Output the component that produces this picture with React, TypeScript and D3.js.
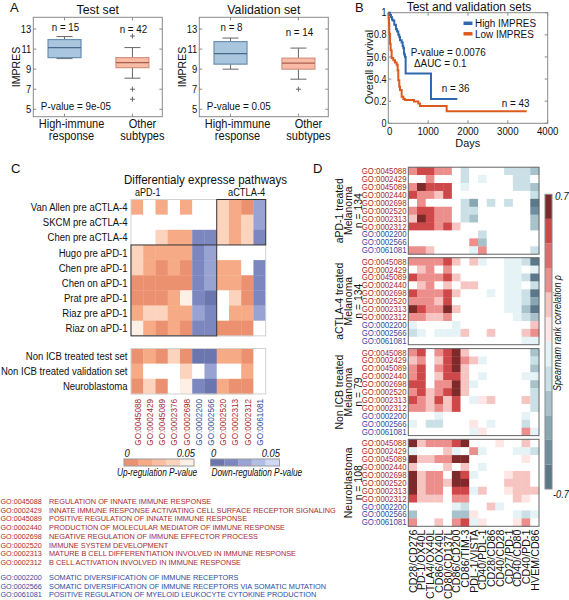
import React from 'react';
import * as d3 from 'd3';

const FONT = "'Liberation Sans', Arial, Helvetica, sans-serif";
const RED = '#a62a2d';
const BLUE = '#2f4b9c';

// ---------------- Panel A data ----------------
const aCategories = [['High-immune', 'response'], ['Other', 'subtypes']];
// [lowWhisker, q1, median, q3, highWhisker]
const aTestBoxes = [[10.05, 10.15, 11.15, 11.95, 12.25], [8.1, 9.15, 9.65, 10.15, 11.15]];
const aTestOutliers = [[], [12.3, 7.0, 6.0]];
const aTestN = ['n = 15', 'n = 42'];
const aValBoxes = [[9.0, 9.5, 10.55, 11.75, 12.1], [8.0, 9.0, 9.6, 10.1, 11.1]];
const aValOutliers = [[], [7.0]];
const aValN = ['n = 8', 'n = 14'];
const aTicks = [5, 7, 9, 11, 13];

// ---------------- Panel B data ----------------
const highDays = [0, 40, 67, 90, 109, 150, 192, 220, 251, 275, 293, 335, 360, 377, 393, 405, 418, 435, 1071, 1732];
const highSurv = [1, 0.98, 0.96, 0.94, 0.93, 0.89, 0.85, 0.83, 0.8, 0.78, 0.75, 0.73, 0.7, 0.68, 0.63, 0.62, 0.6, 0.45, 0.22, 0.22];
const lowDays = [0, 8, 17, 25, 42, 59, 84, 126, 167, 209, 234, 251, 276, 293, 335, 377, 418, 644, 753, 795, 1464, 3473];
const lowSurv = [1, 0.95, 0.9, 0.81, 0.72, 0.66, 0.59, 0.57, 0.55, 0.53, 0.48, 0.39, 0.33, 0.3, 0.24, 0.22, 0.21, 0.196, 0.18, 0.157, 0.11, 0.11];
const bXTicks = [0, 1000, 2000, 3000, 4000];
const bYTicks = [0, 0.2, 0.4, 0.6, 0.8, 1];

// ---------------- Panel C data ----------------
const cRowsTop = ['Van Allen pre aCTLA-4', 'SKCM pre aCTLA-4', 'Chen pre aCTLA-4', 'Hugo pre aPD-1', 'Chen pre aPD-1', 'Chen on aPD-1', 'Prat pre aPD-1', 'Riaz  pre aPD-1', 'Riaz on aPD-1'];
const cRowsBottom = ['Non ICB treated test set', 'Non ICB treated validation set', 'Neuroblastoma'];
const cCols = ['GO:0045088', 'GO:0002429', 'GO:0045089', 'GO:0002376', 'GO:0002698', 'GO:0002200', 'GO:0002566', 'GO:0002520', 'GO:0002313', 'GO:0002312', 'GO:0061081'];
const cColIsUp = [true, true, true, true, true, false, false, true, true, true, false];
// positive = up-regulation P-value, negative = down-regulation P-value, 0 = not significant
const cTop = [
  [0.015, 0, 0.015, 0, 0.015, 0, 0, 0.032, 0.015, 0.005, -0.022],
  [0, 0, 0, 0, 0, 0, 0, 0.032, 0.015, 0.032, -0.025],
  [0, 0, 0.032, 0.015, 0.015, -0.012, -0.012, 0.032, 0.015, 0.032, -0.012],
  [0.032, 0.015, 0.015, 0.015, 0.015, -0.012, -0.025, 0, 0, 0, 0],
  [0.032, 0.015, 0.005, 0.015, 0.005, -0.012, -0.025, 0.015, 0.015, 0, -0.012],
  [0.005, 0.005, 0.005, 0.005, 0.005, -0.012, -0.025, 0.015, 0.015, 0.005, -0.012],
  [0.005, 0.005, 0.005, 0.015, 0.045, -0.012, -0.005, 0, 0.032, 0.005, -0.012],
  [0.015, 0.032, 0.032, 0.015, 0.015, -0.025, -0.012, 0, 0.015, 0.015, -0.025],
  [0.045, 0.015, 0.005, 0.015, 0.005, -0.012, -0.012, 0.005, 0.005, 0.005, 0],
];
const cBottom = [
  [0.005, 0.015, 0.005, 0.032, 0.005, -0.005, -0.005, 0.015, 0.015, 0.005, 0],
  [0.015, 0, 0, 0, 0.032, 0, -0.025, 0, 0, 0.015, 0],
  [0.005, 0.032, 0.005, 0, 0.045, -0.012, -0.005, 0.015, 0.005, 0.005, 0],
];
const upColors = ['#ec9170', '#f6aa86', '#f9bea0', '#fcd3bc', '#fff0e6'];
const downColors = ['#6a76ad', '#7b87be', '#98a3d4', '#b3bce4', '#d2d8f3'];
const goLegendUp = [
  ['GO:0045088', 'REGULATION OF INNATE IMMUNE RESPONSE'],
  ['GO:0002429', 'INNATE IMMUNE RESPONSE ACTIVATING CELL SURFACE RECEPTOR SIGNALING'],
  ['GO:0045089', 'POSITIVE REGULATION OF INNATE IMMUNE RESPONSE'],
  ['GO:0002440', 'PRODUCTION OF MOLECULAR MEDIATOR OF IMMUNE RESPONSE'],
  ['GO:0002698', 'NEGATIVE REGULATION OF IMMUNE EFFECTOR PROCESS'],
  ['GO:0002520', 'IMMUNE SYSTEM DEVELOPMENT'],
  ['GO:0002313', 'MATURE B CELL DIFFERENTIATION INVOLVED IN IMMUNE RESPONSE'],
  ['GO:0002312', 'B CELL ACTIVATION INVOLVED IN IMMUNE RESPONSE'],
];
const goLegendDown = [
  ['GO:0002200', 'SOMATIC DIVERSIFICATION OF IMMUNE RECEPTORS'],
  ['GO:0002566', 'SOMATIC DIVERSIFICATION OF IMMUNE RECEPTORS VIA SOMATIC MUTATION'],
  ['GO:0061081', 'POSITIVE REGULATION OF MYELOID LEUKOCYTE CYTOKINE PRODUCTION'],
];

// ---------------- Panel D data ----------------
const dCols = ['CD28/CD276', 'PD-1/OX40L', 'CTLA4/OX40L', 'CD86/OX40L', 'CD80/CD137L', 'CD86/CD200', 'CD86/TIM-3', 'PDL-1/VISTA', 'CD40/PDL-1', 'CD28/CD86', 'CD40/CD28', 'CD27/PD-1', 'CD40/CD80', 'CD40/PD-1', 'HVEM/CD86'];
const dRows = ['GO:0045088', 'GO:0002429', 'GO:0045089', 'GO:0002440', 'GO:0002698', 'GO:0002520', 'GO:0002313', 'GO:0002312', 'GO:0002200', 'GO:0002566', 'GO:0061081'];
const dRowIsUp = [true, true, true, true, true, true, true, true, false, false, false];
const dBlockLabels = [
  ['aPD-1 treated', 'Melanoma', 'n = 134'],
  ['aCTLA-4 treated', 'Melanoma', 'n = 134'],
  ['Non ICB treated', 'Melanoma', 'n = 79'],
  ['Neuroblastoma', 'n = 108'],
];
const dAPD1 = [
  [.29, .52, .52, .29, .29, 0, -.17, 0, 0, 0, 0, -.17, -.17, -.17, -.29],
  [0, 0, .29, 0, 0, 0, -.17, 0, -.06, 0, 0, 0, -.17, -.17, 0],
  [.29, .64, .52, .52, .52, 0, -.06, 0, 0, 0, 0, 0, -.17, -.17, -.29],
  [.52, .29, .29, .17, .52, 0, 0, 0, 0, 0, 0, 0, 0, 0, -.17],
  [0, .29, 0, 0, 0, 0, -.17, -.41, 0, -.17, 0, -.17, 0, 0, -.64],
  [.29, .52, .52, .29, .29, 0, -.17, -.17, 0, 0, 0, 0, 0, 0, -.52],
  [.17, .64, .52, .29, .29, 0, -.17, -.29, 0, 0, 0, 0, 0, 0, -.29],
  [.52, .52, .52, .29, .52, .17, 0, 0, 0, 0, 0, 0, 0, 0, -.29],
  [0, 0, 0, 0, 0, 0, 0, 0, -.17, 0, 0, 0, 0, 0, 0],
  [0, 0, 0, 0, 0, 0, 0, .29, -.29, 0, 0, 0, 0, 0, 0],
  [.29, .29, .17, 0, 0, 0, 0, -.06, .29, 0, 0, 0, 0, 0, -.17],
];
const dACTLA4 = [
  [.29, .29, .29, .29, .52, .17, 0, .17, -.06, 0, 0, -.06, -.06, -.17, -.64],
  [0, .17, .29, 0, .29, 0, 0, 0, 0, 0, 0, -.06, -.06, 0, -.06],
  [.52, .29, .29, .29, .52, .17, 0, 0, 0, 0, 0, -.06, -.06, -.17, -.64],
  [0, .17, .29, 0, .17, 0, .17, .17, 0, 0, 0, -.06, -.06, 0, -.17],
  [.52, .29, .29, .29, .52, .17, 0, 0, 0, -.06, 0, -.06, -.06, -.17, -.64],
  [.29, .29, .29, .17, .52, 0, 0, 0, 0, 0, 0, -.06, -.06, -.17, -.41],
  [.64, .52, .29, .29, .64, .17, 0, 0, 0, 0, 0, -.06, -.06, -.29, -.64],
  [.29, .29, .17, .17, .29, 0, 0, 0, 0, 0, 0, 0, -.06, -.17, -.29],
  [-.06, 0, 0, 0, 0, -.06, 0, 0, 0, 0, 0, 0, 0, 0, .17],
  [-.17, -.06, 0, -.06, -.06, -.06, .17, 0, 0, .17, 0, 0, 0, .17, .29],
  [0, 0, 0, 0, 0, 0, 0, 0, 0, 0, 0, 0, 0, -.06, -.06],
];
const dNonICB = [
  [.29, .52, 0, .29, .52, .64, .17, 0, 0, 0, 0, 0, 0, 0, -.29],
  [.17, .29, 0, .17, .52, .64, .29, .17, -.06, 0, 0, 0, 0, 0, -.17],
  [.29, .52, 0, .29, .52, .64, .17, 0, 0, 0, 0, 0, 0, 0, -.29],
  [.29, .52, 0, .17, .52, .52, .17, 0, -.06, 0, 0, 0, 0, -.06, -.06],
  [.52, .52, 0, .29, .29, .64, .17, -.06, 0, 0, 0, 0, 0, 0, -.29],
  [.29, .52, .17, .29, .52, .64, .17, 0, 0, 0, 0, 0, 0, 0, -.17],
  [.52, .29, .17, .52, .17, .52, 0, -.06, .06, .17, 0, 0, 0, .17, -.17],
  [.29, .29, .17, .29, .17, .52, 0, 0, 0, 0, 0, 0, 0, 0, -.17],
  [0, 0, 0, -.06, 0, 0, 0, 0, 0, 0, 0, 0, 0, -.06, 0],
  [-.06, 0, -.17, -.17, 0, 0, 0, .06, 0, -.06, 0, 0, 0, -.17, 0],
  [0, 0, 0, 0, 0, 0, 0, -.06, .06, 0, 0, 0, 0, .29, -.06],
];
const dNeuro = [
  [.64, .17, .29, .29, .29, .52, .64, 0, 0, 0, .06, 0, 0, .17, 0],
  [-.06, 0, 0, 0, .17, -.06, 0, .29, -.06, 0, 0, 0, -.06, -.06, -.17],
  [.64, .17, .17, .29, .29, .64, .64, 0, 0, 0, 0, 0, 0, .06, 0],
  [.17, 0, 0, 0, .17, 0, .17, 0, -.06, 0, 0, 0, 0, 0, 0],
  [.64, .17, .29, .29, 0, .64, .52, -.06, 0, 0, 0, .06, .17, .17, 0],
  [.64, .17, .29, .29, .17, .64, .64, 0, 0, 0, 0, .17, .17, .17, 0],
  [.64, .17, .29, .29, 0, .52, .52, -.06, .17, 0, 0, .06, .17, .17, .17],
  [.52, .17, .17, .17, 0, .29, .29, 0, 0, 0, 0, 0, .17, .06, 0],
  [0, 0, 0, 0, 0, -.06, -.17, 0, 0, .17, -.06, 0, 0, 0, 0],
  [-.29, 0, 0, 0, 0, -.29, -.29, .06, 0, 0, 0, 0, -.06, -.17, -.06],
  [.29, 0, 0, .17, 0, .29, .52, -.06, .06, 0, 0, 0, .06, .29, 0],
];
const dBlocks = [dAPD1, dACTLA4, dNonICB, dNeuro];
const dBinColors = ['#5b788a', '#6f8d9e', '#89a6b3', '#a8c2cb', '#cae0e6', '#e5f3f6', '#fde6e4', '#f6c5c1', '#ec8e8c', '#e06b6b', '#cf4849', '#7e2a2b'];

// ---------------- helpers ----------------
type TP = {
  x: number; y: number; s?: number; sx?: number; rot?: number; anchor?: string;
  fill?: string; italic?: boolean; children?: React.ReactNode;
};
function T({ x, y, s = 11, sx = 1, rot = 0, anchor = 'start', fill = '#111', italic = false, children }: TP) {
  const tr = `translate(${x},${y})${rot ? ` rotate(${rot})` : ''} scale(${sx},1)`;
  return (
    <text transform={tr} fontSize={s} textAnchor={anchor as any} fill={fill}
      fontStyle={italic ? 'italic' : undefined} fontFamily={FONT}>{children}</text>
  );
}

// ---------------- Panel A ----------------
const yA = d3.scaleLinear().domain([4.26, 14.17]).range([116.7, 17.3]);
const boxFill = ['#a9c6de', '#f7bba6'];
const boxStroke = ['#6a8fb0', '#d39480'];
const medStroke = ['#48698a', '#a8604e'];

function BoxPanel({ x0, x1, title, boxes, outliers, ns, nY, pText, labelX }: any) {
  const x = d3.scaleLinear().domain([0.54, 2.44]).range([x0, x1]);
  const bw = 33;
  const cap = 16;
  return (
    <g>
      <T x={(x0 + x1) / 2} y={14} s={13} sx={0.95} anchor="middle">{title}</T>
      <rect x={x0} y={17.3} width={x1 - x0} height={116.7 - 17.3} fill="none" stroke="#8a8a8a" strokeWidth={1} />
      {aTicks.map((t) => (
        <g key={t}>
          <line x1={x0} x2={x0 + 3} y1={yA(t)} y2={yA(t)} stroke="#8a8a8a" />
          <line x1={x1} x2={x1 - 3} y1={yA(t)} y2={yA(t)} stroke="#8a8a8a" />
          <T x={x0 - 2} y={yA(t) + 3.8} s={10.5} sx={0.9} anchor="end">{t}</T>
        </g>
      ))}
      {[1, 2].map((c) => (
        <g key={c}>
          <line x1={x(c)} x2={x(c)} y1={116.7} y2={113.7} stroke="#8a8a8a" />
          <line x1={x(c)} x2={x(c)} y1={17.3} y2={20.3} stroke="#8a8a8a" />
        </g>
      ))}
      <T x={x0 - 13} y={67} s={11.5} sx={0.92} rot={-90} anchor="middle">IMPRES</T>
      {boxes.map((b: number[], i: number) => {
        const cx = x(i + 1);
        return (
          <g key={i}>
            <line x1={cx} x2={cx} y1={yA(b[4])} y2={yA(b[3])} stroke="#666" />
            <line x1={cx} x2={cx} y1={yA(b[1])} y2={yA(b[0])} stroke="#666" />
            <line x1={cx - cap / 2} x2={cx + cap / 2} y1={yA(b[4])} y2={yA(b[4])} stroke="#666" />
            <line x1={cx - cap / 2} x2={cx + cap / 2} y1={yA(b[0])} y2={yA(b[0])} stroke="#666" />
            <rect x={cx - bw / 2} y={yA(b[3])} width={bw} height={yA(b[1]) - yA(b[3])}
              fill={boxFill[i]} stroke={boxStroke[i]} strokeWidth={1.2} />
            <line x1={cx - bw / 2} x2={cx + bw / 2} y1={yA(b[2])} y2={yA(b[2])} stroke={medStroke[i]} strokeWidth={1.3} />
            {outliers[i].map((o: number, k: number) => (
              <g key={k} stroke="#666" strokeWidth={1}>
                <line x1={cx - 2.5} x2={cx + 2.5} y1={yA(o)} y2={yA(o)} />
                <line x1={cx} x2={cx} y1={yA(o) - 2.5} y2={yA(o) + 2.5} />
              </g>
            ))}
            <T x={cx + 1} y={nY[i]} s={11.5} sx={0.85} anchor="middle">{ns[i]}</T>
            <T x={cx + labelX[i]} y={128} s={12} sx={0.92} anchor="middle">{aCategories[i][0]}</T>
            <T x={cx + labelX[i]} y={139.5} s={12} sx={0.92} anchor="middle">{aCategories[i][1]}</T>
          </g>
        );
      })}
      <T x={x0 + 7.5} y={110} s={11} sx={0.9}>{pText}</T>
    </g>
  );
}

function PanelA() {
  return (
    <g>
      <T x={10} y={12} s={13}>A</T>
      <BoxPanel x0={33.3} x1={162.3} title="Test set" boxes={aTestBoxes} outliers={aTestOutliers}
        ns={aTestN} nY={[30.7, 32.7]} pText="P-value = 9e-05" labelX={[7, 10]} />
      <BoxPanel x0={199.3} x1={328.3} title="Validation set" boxes={aValBoxes} outliers={aValOutliers}
        ns={aValN} nY={[30.7, 36]} pText="P-value = 0.05" labelX={[7, 10]} />
    </g>
  );
}

// ---------------- Panel B ----------------
function PanelB() {
  const xB = d3.scaleLinear().domain([0, 4000]).range([388.3, 547.7]);
  const yB = d3.scaleLinear().domain([0, 1]).range([123.3, 12.7]);
  const line = d3.line<[number, number]>().x((d) => xB(d[0])).y((d) => yB(d[1])).curve(d3.curveStepAfter);
  const hi = highDays.map((d, i) => [d, highSurv[i]] as [number, number]);
  const lo = lowDays.map((d, i) => [d, lowSurv[i]] as [number, number]);
  return (
    <g>
      <T x={355} y={11.5} s={13}>B</T>
      <T x={469} y={10.5} s={12.5} sx={0.96} anchor="middle">Test and validation sets</T>
      <rect x={388.3} y={12.7} width={547.7 - 388.3} height={123.3 - 12.7} fill="none" stroke="#8a8a8a" />
      {bXTicks.map((t) => (
        <g key={t}>
          <line x1={xB(t)} x2={xB(t)} y1={123.3} y2={120.3} stroke="#8a8a8a" />
          <line x1={xB(t)} x2={xB(t)} y1={12.7} y2={15.7} stroke="#8a8a8a" />
          <T x={xB(t) + (t === 0 ? 1.5 : 0)} y={134.5} s={10.5} sx={0.92} anchor="middle">{t}</T>
        </g>
      ))}
      {bYTicks.map((t) => (
        <g key={t}>
          <line x1={388.3} x2={391.3} y1={yB(t)} y2={yB(t)} stroke="#8a8a8a" />
          <line x1={547.7} x2={544.7} y1={yB(t)} y2={yB(t)} stroke="#8a8a8a" />
          <T x={386.5} y={yB(t) + 3.6} s={10} sx={0.9} anchor="end">{String(t)}</T>
        </g>
      ))}
      <T x={467.7} y={146.5} s={11.5} sx={0.95} anchor="middle">Days</T>
      <T x={372.5} y={67} s={11.5} sx={0.95} rot={-90} anchor="middle">Overall survival</T>
      <path d={line(lo) || ''} fill="none" stroke="#de5a1c" strokeWidth={2} />
      <path d={line(hi) || ''} fill="none" stroke="#2f68ae" strokeWidth={2} />
      <line x1={463.5} x2={472.5} y1={23.3} y2={23.3} stroke="#2f68ae" strokeWidth={3.5} />
      <T x={475} y={27} s={11} sx={0.9}>High IMPRES</T>
      <line x1={463.5} x2={472.5} y1={33.8} y2={33.8} stroke="#de5a1c" strokeWidth={3.5} />
      <T x={475} y={37.5} s={11} sx={0.9}>Low IMPRES</T>
      <T x={410.7} y={56} s={11} sx={0.9}>P-value =  0.0076</T>
      <T x={414} y={66.8} s={11} sx={0.9}>{'\u0394AUC = 0.1'}</T>
      <T x={441.7} y={92} s={11} sx={0.9}>n = 36</T>
      <T x={501.7} y={107} s={11} sx={0.9}>n = 43</T>
    </g>
  );
}

// ---------------- Panel C ----------------
const upScale = d3.scaleQuantize<string>().domain([0, 0.05]).range(upColors);
const downScale = d3.scaleQuantize<string>().domain([0, 0.05]).range(downColors);
function cColor(v: number) {
  if (v === 0) return '#ffffff';
  return v > 0 ? upScale(v) : downScale(-v);
}

function PanelC() {
  const xC = d3.scaleBand<string>().domain(cCols).range([131, 265.7]);
  const rowH = 15.15;
  const yTop = d3.scaleBand<string>().domain(cRowsTop).range([199.5, 199.5 + rowH * 9]);
  const yBot = d3.scaleBand<string>().domain(cRowsBottom).range([348.5, 348.5 + rowH * 3]);
  const cw = xC.bandwidth();
  const groups = [
    { rows: cRowsTop, data: cTop, y: yTop },
    { rows: cRowsBottom, data: cBottom, y: yBot },
  ];
  const x7 = xC(cCols[7])!;
  return (
    <g>
      <T x={11} y={173} s={13}>C</T>
      <T x={124} y={183.5} s={13} sx={0.89}>Differentialy expresse pathways</T>
      <T x={135} y={195.5} s={10} sx={0.9}>aPD-1</T>
      <T x={228} y={195.5} s={10} sx={0.93}>aCTLA-4</T>
      {groups.map((g, gi) => (
        <g key={gi}>
          {g.rows.map((r, ri) => (
            <g key={r}>
              {cCols.map((c, ci) => (
                <rect key={c} x={xC(c)} y={g.y(r)} width={cw + 0.3} height={g.y.bandwidth() + 0.3}
                  fill={cColor(g.data[ri][ci])} />
              ))}
              <T x={127.5} y={g.y(r)! + g.y.bandwidth() / 2 + 4.1} s={11.5} sx={0.83} anchor="end">{r}</T>
            </g>
          ))}
          <rect x={131} y={g.y.range()[0]} width={265.7 - 131} height={g.y.range()[1] - g.y.range()[0]}
            fill="none" stroke="#d2d2d2" />
        </g>
      ))}
      {/* highlighted blocks */}
      <rect x={x7} y={yTop(cRowsTop[0])} width={265.7 - x7} height={rowH * 3} fill="none" stroke="#333" strokeWidth={1} />
      <rect x={131} y={yTop(cRowsTop[3])} width={x7 - 131} height={rowH * 6} fill="none" stroke="#333" strokeWidth={1} />
      {cCols.map((c, ci) => (
        <T key={c} x={xC(c)! + cw / 2 + 3.4} y={399} s={9.5} sx={0.86} rot={-90} anchor="end"
          fill={cColIsUp[ci] ? RED : BLUE}>{c}</T>
      ))}
      {/* colorbars */}
      {upColors.map((col, i) => (
        <rect key={'u' + i} x={124 + i * 14} y={459} width={14} height={7} fill={col} />
      ))}
      <rect x={124} y={459} width={70} height={7} fill="none" stroke="#9a9a9a" />
      {downColors.map((col, i) => (
        <rect key={'d' + i} x={210.5 + i * 13.8} y={459} width={13.8} height={7} fill={col} />
      ))}
      <rect x={210.5} y={459} width={69} height={7} fill="none" stroke="#9a9a9a" />
      <T x={124.5} y={456.5} s={10.5} sx={0.9} italic>0</T>
      <T x={195} y={456.5} s={10.5} sx={0.9} italic anchor="end">0.05</T>
      <T x={211} y={456.5} s={10.5} sx={0.9} italic>0</T>
      <T x={280} y={456.5} s={10.5} sx={0.9} italic anchor="end">0.05</T>
      <T x={117} y={476} s={10} sx={0.83} italic>Up-regulation P-value</T>
      <T x={211.5} y={476} s={10} sx={0.83} italic>Down-regulation P-value</T>
      {/* GO legend */}
      {goLegendUp.map((g, i) => (
        <g key={g[0]}>
          <T x={0.5} y={504 + i * 8.7} s={7.5} sx={0.96} fill={RED}>{g[0]}</T>
          <T x={49} y={504 + i * 8.7} s={7.5} sx={0.98} fill={RED}>{g[1]}</T>
        </g>
      ))}
      {goLegendDown.map((g, i) => (
        <g key={g[0]}>
          <T x={0.5} y={580 + i * 8.7} s={7.5} sx={0.96} fill={BLUE}>{g[0]}</T>
          <T x={49} y={580 + i * 8.7} s={7.5} sx={0.98} fill={BLUE}>{g[1]}</T>
        </g>
      ))}
    </g>
  );
}

// ---------------- Panel D ----------------
const dScale = d3.scaleQuantize<string>().domain([-0.7, 0.7]).range(dBinColors);
function dColor(v: number) {
  return v === 0 ? '#ffffff' : dScale(v);
}

function PanelD() {
  const xD = d3.scaleBand<string>().domain(dCols).range([408.3, 539]);
  const blockTops = [167.2, 257.7, 348.6, 439.3];
  const blockH = 87;
  const cw = xD.bandwidth();
  const cbY = d3.scaleLinear().domain([0.7, -0.7]).range([194.3, 489]);
  const binW = 1.4 / dBinColors.length;
  return (
    <g>
      <T x={313} y={173} s={13}>D</T>
      {dBlocks.map((blk, bi) => {
        const yD = d3.scaleBand<string>().domain(dRows).range([blockTops[bi], blockTops[bi] + blockH]);
        const rh = yD.bandwidth();
        const labels = dBlockLabels[bi];
        const lx = labels.length === 3 ? [342.5, 352.3, 362] : [352.3, 362];
        const cy = blockTops[bi] + blockH / 2;
        return (
          <g key={bi}>
            {dRows.map((r, ri) => (
              <g key={r}>
                {dCols.map((c, ci) => (
                  <rect key={c} x={xD(c)} y={yD(r)} width={cw + 0.3} height={rh + 0.3} fill={dColor(blk[ri][ci])} />
                ))}
                <T x={406.5} y={yD(r)! + rh / 2 + 3} s={8.5} sx={0.92} anchor="end"
                  fill={dRowIsUp[ri] ? RED : BLUE}>{r}</T>
              </g>
            ))}
            <rect x={408.3} y={blockTops[bi]} width={539 - 408.3} height={blockH} fill="none" stroke="#666" strokeWidth={1} />
            {labels.map((l, li) => (
              <T key={li} x={lx[li]} y={cy} s={11} sx={0.95} rot={-90} anchor="middle">{l}</T>
            ))}
          </g>
        );
      })}
      {dCols.map((c) => (
        <T key={c} x={xD(c)! + cw / 2 + 4.1} y={529.5} s={11.5} sx={0.93} rot={-90} anchor="end">{c}</T>
      ))}
      {/* colorbar */}
      {dBinColors.map((col, i) => {
        const lo = -0.7 + i * binW;
        const hi = lo + binW;
        return <rect key={i} x={545} y={cbY(hi)} width={7} height={cbY(lo) - cbY(hi)} fill={col} />;
      })}
      <rect x={545} y={194.3} width={7} height={489 - 194.3} fill="none" stroke="#8a8a8a" />
      <T x={555} y={200} s={11} sx={0.9} italic>0.7</T>
      <T x={553} y={498} s={10.5} sx={0.88} italic>-0.7</T>
      <T x={561} y={333} s={10} sx={0.9} rot={-90} anchor="middle" italic>{'Spearmam rank correlation \u03C1'}</T>
    </g>
  );
}

export default function App() {
  return (
    <svg width={569} height={600} viewBox="0 0 569 600"
      style={{ position: 'absolute', left: 0, top: 0, background: '#fff', display: 'block' }}
      fontFamily={FONT}>
      <rect width={569} height={600} fill="#fff" />
      <PanelA />
      <PanelB />
      <PanelC />
      <PanelD />
    </svg>
  );
}
